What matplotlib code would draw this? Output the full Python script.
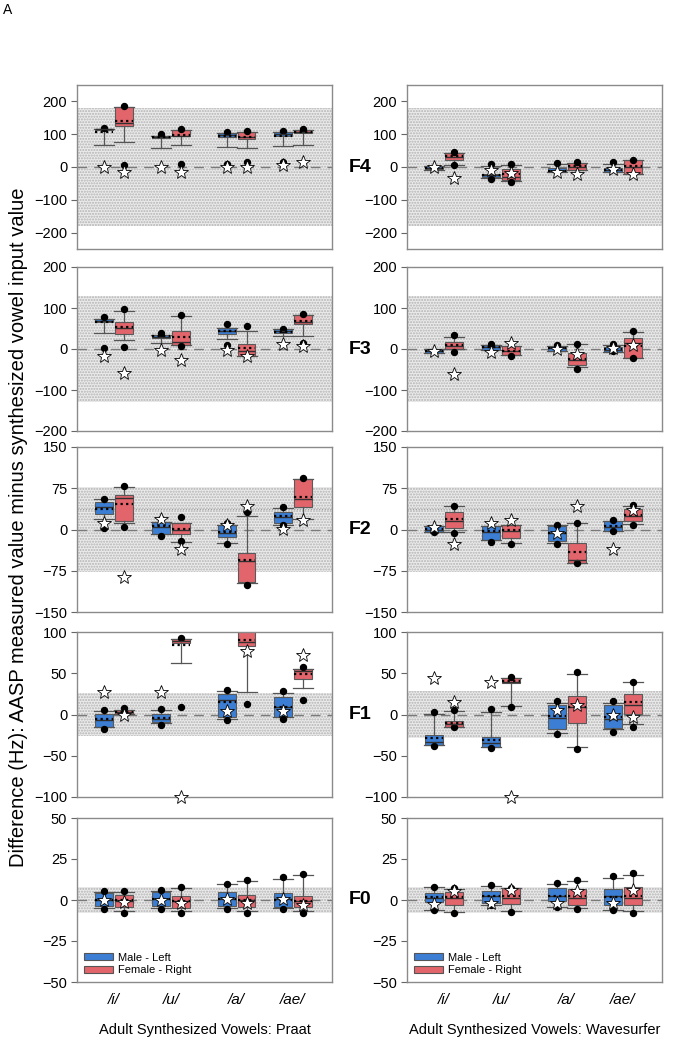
import matplotlib
matplotlib.use("Agg")
import matplotlib.pyplot as plt
from matplotlib.patches import Patch
from matplotlib import transforms

plt.rcParams['font.family'] = ['Liberation Sans', 'DejaVu Sans']

# order of boxes in every panel: /i/ M, /i/ F, /u/ M, /u/ F, /a/ M, /a/ F, /ae/ M, /ae/ F
vowels = ['/i/', '/u/', '/a/', '/ae/']
# each box: (whisker low, q1, median, q3, whisker high, mean)
praat_F4 = [(67, 112, 115, 117, 117, 107), (77, 126, 134, 183, 183, 141),
            (57, 88, 92, 95, 96, 90), (67, 93, 95, 112, 112, 97),
            (61, 91, 97, 104, 104, 95), (57, 86, 92, 107, 107, 91),
            (64, 93, 100, 107, 107, 95), (66, 104, 108, 112, 112, 106)]
praat_F4_dots = [[119], [187, 6], [100], [116, 10], [106, 10], [111, 15], [109, 15], [116]]
praat_F4_stars = [0, -16, 0, -16, 0, 0, 6, 14]

wave_F4 = [(-8, -7, -4, 2, 3, -3), (5, 22, 30, 43, 43, 35),
           (-33, -30, -25, -20, 2, -24), (-42, -39, -30, -6, 5, -22),
           (-16, -16, -12, -4, 8, -11), (-10, -10, 0, 12, 12, 2),
           (-16, -16, -10, -2, 10, -10), (-20, -20, 0, 22, 22, 2)]
wave_F4_dots = [[], [47, 6], [8, -37], [10, -45], [12], [15], [15], [22]]
wave_F4_stars = [0, -34, -8, -18, -16, -20, -6, -22]

praat_F3 = [(40, 66, 68, 74, 74, 67), (22, 36, 51, 66, 93, 53),
            (15, 26, 30, 35, 35, 31), (10, 10, 18, 45, 81, 30),
            (25, 36, 44, 51, 51, 44), (-16, -16, -4, 11, 44, 2),
            (32, 40, 44, 48, 48, 42), (31, 62, 67, 82, 82, 69)]
praat_F3_dots = [[78, 2], [97, 5], [39], [82, 8], [60, 10], [56], [50], [86, 15]]
praat_F3_stars = [-18, -58, -2, -26, -2, -16, 11, 8]

wave_F3 = [(-10, -10, -5, 0, 0, -4), (-1, -1, 8, 18, 30, 10),
           (-2, -2, 4, 10, 10, 5), (-15, -15, -5, 7, 7, -4),
           (-4, -4, 2, 8, 8, 3), (-44, -40, -28, -10, 11, -25),
           (-8, -8, -2, 4, 10, 0), (-22, -22, 15, 26, 41, 8)]
wave_F3_dots = [[], [33, -8], [11], [-18], [10], [12, -48], [13, -5], [43, -23]]
wave_F3_stars = [-6, -62, -8, 15, 0, -12, 2, 10]

praat_F2 = [(19, 29, 41, 50, 55, 38), (11, 16, 58, 62, 77, 46),
            (-9, -9, 4, 13, 13, 6), (-22, -9, 0, 11, 11, 1),
            (-24, -14, -6, 9, 9, -5), (-98, -95, -58, -42, 24, -55),
            (8, 11, 22, 32, 39, 24), (20, 41, 55, 92, 92, 60)]
praat_F2_dots = [[55, 2], [80, 4], [20, -11], [22, -21], [11, -26], [31, -100], [41, 8], [94]]
praat_F2_stars = [11, -87, 20, -35, 8, 42, 1, 17]

wave_F2 = [(-5, -5, 0, 6, 6, 1), (-5, 2, 15, 32, 42, 19),
           (-19, -19, -4, 6, 6, -2), (-25, -15, -2, 9, 9, -1),
           (-24, -21, -7, 6, 9, -6), (-60, -60, -55, -25, 11, -40),
           (-2, -2, 5, 15, 15, 7), (10, 16, 25, 38, 42, 27)]
wave_F2_dots = [[-4], [42, -6], [-23], [-27], [9, -27], [12, -61], [17, -2], [44, 8]]
wave_F2_stars = [4, -26, 12, 17, -6, 42, -35, 36]

praat_F1 = [(-15, -15, -7, 1, 4, -6), (1, 1, 3, 5, 6, 3),
            (-10, -9, -5, 1, 5, -4), (62, 87, 89, 91, 91, 84),
            (-5, -3, 17, 25, 28, 15), (27, 83, 88, 102, 102, 90),
            (-3, -3, 9, 21, 26, 9), (32, 43, 53, 55, 55, 49)]
praat_F1_dots = [[6, -17], [8], [7, -13], [93, 9], [30, -7], [13], [28, -5], [57, 17]]
praat_F1_stars = [27, 0, 27, -100, 4, 77, 4, 72]

wave_F1 = [(-37, -37, -33, -25, 1, -29), (-15, -15, -12, -8, 4, -10),
           (-39, -39, -35, -27, 3, -31), (10, 38, 40, 44, 44, 41),
           (-22, -18, -4, 11, 14, -2), (-39, -10, 9, 23, 49, 9),
           (-18, -16, -6, 12, 14, -3), (-12, 1, 12, 25, 39, 15)]
wave_F1_dots = [[3, -38], [5, -15], [7, -40], [45, 9], [16, -24], [51, -42], [16, -21], [39, -15]]
wave_F1_stars = [44, 15, 40, -100, 5, 12, 0, -3]

praat_F0 = [(-5, -3.6, 0, 4.4, 5, 0.3), (-7, -4, -0.5, 2.8, 5, -0.3),
            (-5, -3.6, 0.5, 4.8, 5.5, 0.5), (-7, -4.8, -0.8, 2.4, 7.5, -0.5),
            (-5, -3.6, 0.5, 4.8, 9.5, 0.5), (-7, -4, -0.3, 2.8, 11.5, 0.3),
            (-5, -4, 0.5, 4.4, 13, 0.3), (-7, -4.4, -0.5, 2.4, 15, -0.5)]
praat_F0_dots = [[5.6, -5.6], [5.6, -7.7], [6, -5.2], [8, -7.7],
                 [10, -5.6], [12.2, -7.7], [13.8, -5.6], [15.9, -7.7]]
praat_F0_stars = [0, -1.2, 0, -2, 0.4, -1.6, 0.4, -3.2]

wave_F0 = [(-6, -1.2, 1.5, 4.4, 8, 2), (-7.5, -2.8, 1, 4.8, 7, 2),
           (-3, -1.6, 2.5, 5.2, 8.5, 2.5), (-7, -2.4, 1.5, 7.3, 7.3, 2.5),
           (-4, -0.8, 2.5, 7.3, 9.5, 2.5), (-5, -2.8, 1, 6.9, 11.5, 2.5),
           (-6, -2.8, 2.5, 6.9, 13.5, 2), (-7, -2.8, 1, 7.7, 15, 2.5)]
wave_F0_dots = [[8, -6.4], [7.3, -8], [8.9, -3.2], [7.3, -7.3],
                [10.4, -4], [12.2, -5.2], [14.4, -6.4], [16.2, -7.7]]
wave_F0_stars = [-2.4, 5.6, -2, 6, -2, 5.6, -1.6, 6]

formants = ['F4', 'F3', 'F2', 'F1', 'F0']
ylims = [250, 200, 150, 100, 50]
yticks = [[-200, -100, 0, 100, 200], [-200, -100, 0, 100, 200],
          [-150, -75, 0, 75, 150], [-100, -50, 0, 50, 100], [-50, -25, 0, 25, 50]]
band_praat = [180, 130, 78, 26, 8]
band_wave = [180, 130, 78, 28, 8]

panels_praat = [(praat_F4, praat_F4_dots, praat_F4_stars), (praat_F3, praat_F3_dots, praat_F3_stars),
                (praat_F2, praat_F2_dots, praat_F2_stars), (praat_F1, praat_F1_dots, praat_F1_stars),
                (praat_F0, praat_F0_dots, praat_F0_stars)]
panels_wave = [(wave_F4, wave_F4_dots, wave_F4_stars), (wave_F3, wave_F3_dots, wave_F3_stars),
               (wave_F2, wave_F2_dots, wave_F2_stars), (wave_F1, wave_F1_dots, wave_F1_stars),
               (wave_F0, wave_F0_dots, wave_F0_stars)]

blue = '#3b7ed4'
red = '#e2656c'
centers = [0.65, 1.66, 2.82, 3.81]
offset = 0.175
positions = []
for c in centers:
    positions += [c - offset, c + offset]

W, H = 674, 1050
row_top = [85, 267, 447, 632, 818]
row_bot = [249, 431, 612, 797, 982]
col_left = [77, 407]
ax_w = 255

fig = plt.figure(figsize=(W / 100, H / 100), dpi=100)


def draw_panel(ax, boxes, dots, stars, lim, ticks, band, name):
    ax.axhspan(-band, band, facecolor='#ebebeb', edgecolor='#b3b3b3', hatch='......', lw=0, zorder=0)
    if name == 'F2':
        ax.axhline(37, color='#9a9a9a', ls=(0, (1, 1.5)), lw=0.8, zorder=0.5)
    ax.axhline(0, color='#7a7a7a', ls=(0, (7, 5)), lw=1.0, zorder=0.6)
    stats = []
    for b, d in zip(boxes, dots):
        stats.append(dict(whislo=b[0], q1=b[1], med=b[2], q3=b[3], whishi=b[4], mean=b[5], fliers=d))
    res = ax.bxp(stats, positions=positions, widths=0.31, capwidths=0.36,
                 patch_artist=True, showmeans=True, meanline=True, showfliers=True,
                 manage_ticks=False,
                 boxprops=dict(edgecolor='#5a5a5a', linewidth=0.8),
                 medianprops=dict(color='#303030', linewidth=1.0),
                 meanprops=dict(color='black', linestyle=(0, (1, 1.5)), linewidth=1.6),
                 whiskerprops=dict(color='#555555', linewidth=0.9),
                 capprops=dict(color='#555555', linewidth=0.9),
                 flierprops=dict(marker='o', markerfacecolor='black', markeredgecolor='black',
                                 markersize=4.3, linestyle='none'))
    for i, patch in enumerate(res['boxes']):
        patch.set_facecolor(blue if i % 2 == 0 else red)
    ax.plot(positions, stars, marker='*', ls='none', ms=10, mfc='white', mec='black',
            mew=0.6, clip_on=False, zorder=6)
    ax.set_xlim(0, 4.5)
    ax.set_ylim(-lim, lim)
    ax.set_yticks(ticks)
    ax.tick_params(axis='y', labelsize=10.5, length=4, color='#666666', direction='out', pad=3)
    ax.set_xticks([])
    for s in ax.spines.values():
        s.set_color('#8a8a8a')
        s.set_linewidth(1.0)


for r in range(5):
    for c in range(2):
        left = col_left[c] / W
        bottom = 1 - row_bot[r] / H
        height = (row_bot[r] - row_top[r]) / H
        ax = fig.add_axes([left, bottom, ax_w / W, height])
        boxes, dots, stars = (panels_praat if c == 0 else panels_wave)[r]
        band = (band_praat if c == 0 else band_wave)[r]
        draw_panel(ax, boxes, dots, stars, ylims[r], yticks[r], band, formants[r])
        if c == 1:
            trans = transforms.blended_transform_factory(ax.transAxes, ax.transData)
            ax.text(-0.185, 0, formants[r], transform=trans, ha='center', va='center',
                    fontsize=14, fontweight='bold')
        if r == 4:
            ax.set_xticks(centers)
            ax.set_xticklabels(vowels, fontstyle='italic', fontsize=11)
            ax.tick_params(axis='x', length=0, pad=8)
            handles = [Patch(facecolor=blue, edgecolor='#555555', lw=0.8),
                       Patch(facecolor=red, edgecolor='#555555', lw=0.8)]
            ax.legend(handles, ['Male - Left', 'Female - Right'], loc='lower left',
                      frameon=False, fontsize=8, handlelength=2.6, handleheight=0.6,
                      borderaxespad=0.2, labelspacing=0.25, handletextpad=0.5)
            label = 'Adult Synthesized Vowels: Praat' if c == 0 else 'Adult Synthesized Vowels: Wavesurfer'
            fig.text((col_left[c] + ax_w / 2) / W, 1 - 1030 / H, label, ha='center', va='center',
                     fontsize=10.5)

fig.text(0.0275, 0.498, 'Difference (Hz): AASP measured value minus synthesized vowel input value',
         rotation=90, ha='center', va='center', fontsize=14.5)
fig.text(0.005, 0.99, 'A', ha='left', va='center', fontsize=10)

fig.savefig('out.png', dpi=100)
